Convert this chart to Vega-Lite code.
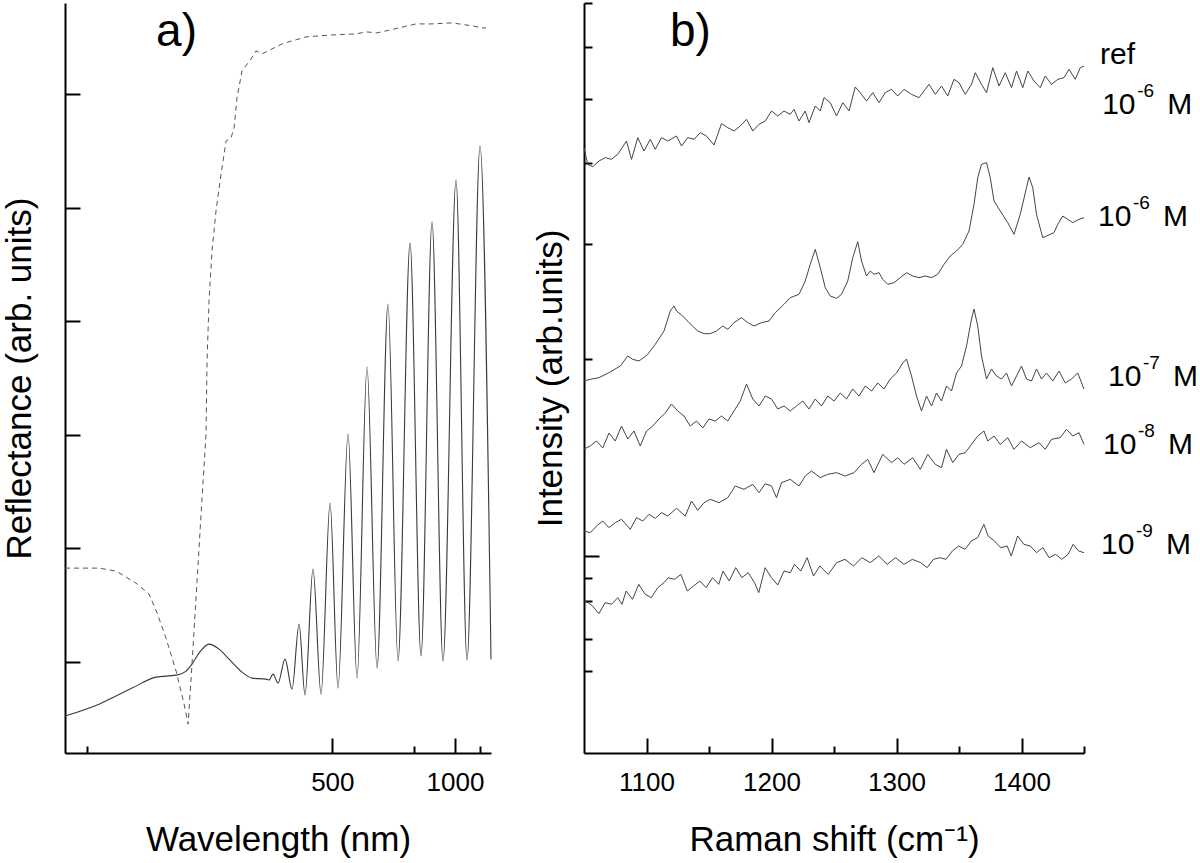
{
  "$schema": "https://vega.github.io/schema/vega-lite/v6.json",
  "background": "white",
  "padding": {"left": 2, "top": 2, "right": 0, "bottom": 0},
  "spacing": 39,
  "config": {
    "view": {"stroke": null},
    "font": "Liberation Sans",
    "axis": {
      "grid": false,
      "domainColor": "black",
      "domainWidth": 2,
      "tickColor": "black",
      "tickWidth": 2,
      "labelFont": "Liberation Sans",
      "labelFontSize": 26,
      "labelColor": "black",
      "labelFlush": false,
      "labelOverlap": false,
      "titleFont": "Liberation Sans",
      "titleFontSize": 35,
      "titleFontWeight": "normal",
      "titleColor": "black"
    }
  },
  "datasets": {
    "a_solid": [
      {"x":239.3,"y":0.525},{"x":256.3,"y":0.630},{"x":275.3,"y":0.771},{"x":291.0,"y":0.868},{"x":305.5,"y":0.885},{"x":313.3,"y":0.921},{"x":318.1,"y":0.982},{"x":324.0,"y":1.079},{"x":332.8,"y":1.158},{"x":342.1,"y":1.114},{"x":351.9,"y":1.026},{"x":365.5,"y":0.912},{"x":376.7,"y":0.859},{"x":393.7,"y":0.850},{"x":397.5,"y":0.842},{"x":402.7,"y":0.894},{"x":409.4,"y":0.815},{"x":419.2,"y":1.026},{"x":429.5,"y":0.762},{"x":440.3,"y":1.335},{"x":449.9,"y":0.710},{"x":463.5,"y":1.819},{"x":478.0,"y":0.718},{"x":495.4,"y":2.400},{"x":511.9,"y":0.771},{"x":534.2,"y":3.007},{"x":556.0,"y":0.859},{"x":582.3,"y":3.597},{"x":611.4,"y":0.947},{"x":646.8,"y":4.151},{"x":682.8,"y":1.009},{"x":731.7,"y":4.687},{"x":783.0,"y":1.053},{"x":842.2,"y":4.873},{"x":910.9,"y":1.009},{"x":1008.3,"y":5.243},{"x":1108.4,"y":1.018},{"x":1256.0,"y":5.542},{"x":1415.0,"y":1.026}
    ],
    "a_dash": [
      {"x":239.3,"y":1.827},{"x":256.3,"y":1.827},{"x":265.8,"y":1.801},{"x":277.8,"y":1.695},{"x":286.2,"y":1.599},{"x":291.7,"y":1.431},{"x":298.0,"y":1.211},{"x":305.5,"y":0.921},{"x":311.7,"y":0.630},{"x":314.9,"y":0.454},{"x":318.1,"y":0.982},{"x":322.3,"y":1.713},{"x":326.6,"y":2.444},{"x":330.1,"y":3.007},{"x":331.0,"y":3.650},{"x":332.8,"y":4.178},{"x":335.5,"y":4.618},{"x":339.2,"y":4.970},{"x":344.0,"y":5.296},{"x":348.9,"y":5.586},{"x":353.9,"y":5.613},{"x":357.0,"y":5.701},{"x":360.1,"y":5.965},{"x":365.5,"y":6.203},{"x":375.6,"y":6.308},{"x":381.4,"y":6.379},{"x":388.7,"y":6.352},{"x":414.9,"y":6.440},{"x":451.6,"y":6.502},{"x":499.4,"y":6.519},{"x":553.5,"y":6.528},{"x":579.6,"y":6.546},{"x":611.4,"y":6.537},{"x":686.6,"y":6.581},{"x":758.8,"y":6.616},{"x":842.2,"y":6.616},{"x":976.2,"y":6.625},{"x":1033.7,"y":6.616},{"x":1160.9,"y":6.599},{"x":1282.1,"y":6.581},{"x":1338.2,"y":6.581}
    ],
    "a_label": [{"x":291.0,"y":6.42,"t":"a)"}],
    "b_label": [{"x":1118.8,"y":2121,"t":"b)"}],
    "b_names": [
      {"x":1462.8,"y":2067,"base":"ref","sup":"","unit":""},
      {"x":1464.5,"y":1917,"base":"10","sup":"-6","unit":"M"},
      {"x":1461.2,"y":1581,"base":"10","sup":"-6","unit":"M"},
      {"x":1469.2,"y":1101,"base":"10","sup":"-7","unit":"M"},
      {"x":1465.2,"y":897,"base":"10","sup":"-8","unit":"M"},
      {"x":1463.6,"y":597,"base":"10","sup":"-9","unit":"M"}
    ],
    "b1": [
      {"x":1050,"y":1816},{"x":1053,"y":1766},{"x":1057,"y":1759},{"x":1062,"y":1776},{"x":1067,"y":1786},{"x":1072,"y":1781},{"x":1077,"y":1796},{"x":1084,"y":1836},{"x":1088,"y":1781},{"x":1093,"y":1846},{"x":1098,"y":1806},{"x":1103,"y":1841},{"x":1107,"y":1811},{"x":1112,"y":1846},{"x":1117,"y":1836},{"x":1124,"y":1851},{"x":1128,"y":1821},{"x":1133,"y":1846},{"x":1138,"y":1841},{"x":1143,"y":1861},{"x":1148,"y":1851},{"x":1154,"y":1824},{"x":1160,"y":1888},{"x":1165,"y":1876},{"x":1170,"y":1866},{"x":1175,"y":1881},{"x":1180,"y":1901},{"x":1185,"y":1866},{"x":1190,"y":1886},{"x":1195,"y":1896},{"x":1200,"y":1926},{"x":1205,"y":1911},{"x":1210,"y":1926},{"x":1215,"y":1916},{"x":1218,"y":1931},{"x":1222,"y":1896},{"x":1227,"y":1926},{"x":1230,"y":1891},{"x":1235,"y":1941},{"x":1239,"y":1926},{"x":1242,"y":1966},{"x":1247,"y":1951},{"x":1252,"y":1911},{"x":1257,"y":1951},{"x":1262,"y":1926},{"x":1267,"y":1998},{"x":1271,"y":1981},{"x":1276,"y":1956},{"x":1281,"y":1981},{"x":1286,"y":1951},{"x":1291,"y":1981},{"x":1296,"y":1991},{"x":1301,"y":1971},{"x":1306,"y":1991},{"x":1312,"y":1976},{"x":1318,"y":1966},{"x":1323,"y":1991},{"x":1326,"y":2006},{"x":1331,"y":1976},{"x":1336,"y":2001},{"x":1341,"y":1971},{"x":1346,"y":2021},{"x":1350,"y":2011},{"x":1355,"y":1976},{"x":1360,"y":2006},{"x":1363,"y":2041},{"x":1368,"y":2006},{"x":1372,"y":1981},{"x":1377,"y":2056},{"x":1382,"y":2001},{"x":1387,"y":2041},{"x":1392,"y":1996},{"x":1396,"y":2046},{"x":1401,"y":1996},{"x":1405,"y":2046},{"x":1410,"y":2016},{"x":1415,"y":1996},{"x":1419,"y":2031},{"x":1424,"y":2006},{"x":1429,"y":2021},{"x":1434,"y":2026},{"x":1438,"y":2051},{"x":1443,"y":2021},{"x":1447,"y":2056},{"x":1450,"y":2061}
    ],
    "b2": [
      {"x":1050,"y":1116},{"x":1055,"y":1121},{"x":1062,"y":1126},{"x":1070,"y":1141},{"x":1079,"y":1161},{"x":1085,"y":1191},{"x":1089,"y":1181},{"x":1094,"y":1176},{"x":1101,"y":1196},{"x":1107,"y":1226},{"x":1114,"y":1266},{"x":1119,"y":1326},{"x":1122,"y":1341},{"x":1124,"y":1326},{"x":1129,"y":1311},{"x":1134,"y":1291},{"x":1141,"y":1266},{"x":1146,"y":1258},{"x":1151,"y":1258},{"x":1156,"y":1266},{"x":1161,"y":1281},{"x":1165,"y":1271},{"x":1170,"y":1291},{"x":1176,"y":1306},{"x":1181,"y":1291},{"x":1186,"y":1281},{"x":1192,"y":1291},{"x":1198,"y":1296},{"x":1203,"y":1321},{"x":1210,"y":1346},{"x":1215,"y":1366},{"x":1222,"y":1376},{"x":1227,"y":1416},{"x":1231,"y":1466},{"x":1235,"y":1511},{"x":1239,"y":1456},{"x":1243,"y":1396},{"x":1247,"y":1371},{"x":1252,"y":1364},{"x":1256,"y":1376},{"x":1261,"y":1416},{"x":1265,"y":1486},{"x":1269,"y":1534},{"x":1272,"y":1476},{"x":1276,"y":1431},{"x":1279,"y":1446},{"x":1282,"y":1436},{"x":1286,"y":1441},{"x":1289,"y":1421},{"x":1293,"y":1406},{"x":1298,"y":1411},{"x":1303,"y":1426},{"x":1308,"y":1441},{"x":1313,"y":1431},{"x":1318,"y":1426},{"x":1323,"y":1431},{"x":1328,"y":1426},{"x":1333,"y":1436},{"x":1338,"y":1466},{"x":1343,"y":1491},{"x":1348,"y":1506},{"x":1353,"y":1526},{"x":1358,"y":1566},{"x":1362,"y":1646},{"x":1365,"y":1726},{"x":1368,"y":1766},{"x":1372,"y":1771},{"x":1375,"y":1726},{"x":1378,"y":1656},{"x":1383,"y":1626},{"x":1389,"y":1591},{"x":1394,"y":1556},{"x":1399,"y":1616},{"x":1404,"y":1696},{"x":1406,"y":1728},{"x":1409,"y":1696},{"x":1412,"y":1616},{"x":1417,"y":1546},{"x":1420,"y":1551},{"x":1426,"y":1561},{"x":1429,"y":1586},{"x":1433,"y":1611},{"x":1437,"y":1601},{"x":1441,"y":1591},{"x":1446,"y":1601},{"x":1450,"y":1606}
    ],
    "b3": [
      {"x":1050,"y":912},{"x":1055,"y":921},{"x":1060,"y":936},{"x":1065,"y":915},{"x":1070,"y":960},{"x":1075,"y":936},{"x":1080,"y":981},{"x":1085,"y":942},{"x":1090,"y":966},{"x":1095,"y":921},{"x":1100,"y":966},{"x":1105,"y":981},{"x":1110,"y":1002},{"x":1115,"y":1020},{"x":1120,"y":1047},{"x":1125,"y":1026},{"x":1130,"y":1011},{"x":1135,"y":981},{"x":1140,"y":996},{"x":1145,"y":975},{"x":1150,"y":1002},{"x":1155,"y":996},{"x":1160,"y":1011},{"x":1165,"y":996},{"x":1170,"y":1026},{"x":1175,"y":1056},{"x":1180,"y":1107},{"x":1185,"y":1062},{"x":1190,"y":1041},{"x":1195,"y":1071},{"x":1200,"y":1062},{"x":1205,"y":1032},{"x":1210,"y":1041},{"x":1215,"y":1026},{"x":1220,"y":1041},{"x":1225,"y":1056},{"x":1230,"y":1032},{"x":1235,"y":1062},{"x":1240,"y":1041},{"x":1245,"y":1071},{"x":1250,"y":1056},{"x":1255,"y":1080},{"x":1260,"y":1062},{"x":1265,"y":1092},{"x":1270,"y":1071},{"x":1275,"y":1101},{"x":1280,"y":1086},{"x":1285,"y":1110},{"x":1290,"y":1092},{"x":1295,"y":1122},{"x":1300,"y":1140},{"x":1305,"y":1170},{"x":1308,"y":1182},{"x":1312,"y":1131},{"x":1316,"y":1071},{"x":1320,"y":1026},{"x":1324,"y":1071},{"x":1328,"y":1041},{"x":1332,"y":1080},{"x":1336,"y":1056},{"x":1340,"y":1101},{"x":1344,"y":1086},{"x":1348,"y":1140},{"x":1352,"y":1161},{"x":1356,"y":1221},{"x":1360,"y":1302},{"x":1362,"y":1332},{"x":1365,"y":1281},{"x":1368,"y":1191},{"x":1372,"y":1122},{"x":1376,"y":1152},{"x":1380,"y":1131},{"x":1384,"y":1122},{"x":1388,"y":1140},{"x":1392,"y":1101},{"x":1396,"y":1131},{"x":1400,"y":1161},{"x":1404,"y":1122},{"x":1408,"y":1116},{"x":1412,"y":1152},{"x":1416,"y":1122},{"x":1420,"y":1140},{"x":1425,"y":1116},{"x":1430,"y":1146},{"x":1435,"y":1110},{"x":1440,"y":1122},{"x":1445,"y":1140},{"x":1450,"y":1092}
    ],
    "b4": [
      {"x":1050,"y":666},{"x":1055,"y":661},{"x":1060,"y":681},{"x":1065,"y":696},{"x":1070,"y":676},{"x":1075,"y":691},{"x":1080,"y":701},{"x":1087,"y":671},{"x":1092,"y":706},{"x":1097,"y":696},{"x":1102,"y":716},{"x":1107,"y":704},{"x":1112,"y":721},{"x":1117,"y":711},{"x":1124,"y":734},{"x":1131,"y":711},{"x":1136,"y":756},{"x":1141,"y":728},{"x":1146,"y":751},{"x":1151,"y":761},{"x":1158,"y":751},{"x":1165,"y":766},{"x":1171,"y":801},{"x":1178,"y":791},{"x":1185,"y":806},{"x":1190,"y":781},{"x":1195,"y":808},{"x":1200,"y":801},{"x":1204,"y":766},{"x":1208,"y":811},{"x":1215,"y":821},{"x":1222,"y":801},{"x":1227,"y":831},{"x":1232,"y":846},{"x":1239,"y":826},{"x":1245,"y":836},{"x":1252,"y":841},{"x":1259,"y":831},{"x":1266,"y":841},{"x":1272,"y":866},{"x":1277,"y":881},{"x":1282,"y":841},{"x":1289,"y":896},{"x":1296,"y":871},{"x":1301,"y":886},{"x":1306,"y":866},{"x":1313,"y":886},{"x":1319,"y":851},{"x":1325,"y":896},{"x":1331,"y":866},{"x":1336,"y":856},{"x":1340,"y":911},{"x":1345,"y":871},{"x":1350,"y":896},{"x":1355,"y":901},{"x":1360,"y":926},{"x":1365,"y":951},{"x":1370,"y":966},{"x":1373,"y":936},{"x":1378,"y":951},{"x":1383,"y":926},{"x":1389,"y":946},{"x":1394,"y":911},{"x":1400,"y":936},{"x":1407,"y":916},{"x":1414,"y":931},{"x":1419,"y":911},{"x":1424,"y":941},{"x":1431,"y":946},{"x":1436,"y":971},{"x":1441,"y":951},{"x":1446,"y":961},{"x":1450,"y":926}
    ],
    "b5": [
      {"x":1050,"y":456},{"x":1053.4,"y":451},{"x":1056.8,"y":441},{"x":1061.9,"y":418},{"x":1066.9,"y":451},{"x":1072,"y":446},{"x":1077,"y":466},{"x":1080.4,"y":446},{"x":1083.7,"y":486},{"x":1088.8,"y":461},{"x":1093.8,"y":506},{"x":1098.9,"y":476},{"x":1103.9,"y":466},{"x":1109,"y":496},{"x":1114,"y":511},{"x":1117.4,"y":526},{"x":1122.5,"y":521},{"x":1127.5,"y":536},{"x":1132.6,"y":486},{"x":1137.6,"y":501},{"x":1142.7,"y":516},{"x":1147.7,"y":496},{"x":1152.8,"y":526},{"x":1157.8,"y":506},{"x":1161.2,"y":546},{"x":1166.2,"y":516},{"x":1171.3,"y":556},{"x":1176.3,"y":526},{"x":1181.4,"y":541},{"x":1186.4,"y":511},{"x":1189.8,"y":481},{"x":1194.9,"y":556},{"x":1199.9,"y":526},{"x":1205,"y":504},{"x":1210,"y":546},{"x":1215.1,"y":541},{"x":1218.4,"y":566},{"x":1223.5,"y":546},{"x":1228.5,"y":586},{"x":1233.6,"y":531},{"x":1238.6,"y":561},{"x":1245.4,"y":536},{"x":1252.1,"y":571},{"x":1258.8,"y":581},{"x":1265.6,"y":561},{"x":1272.3,"y":586},{"x":1279,"y":571},{"x":1285.8,"y":591},{"x":1292.5,"y":566},{"x":1299.2,"y":586},{"x":1306,"y":566},{"x":1312.7,"y":581},{"x":1319.4,"y":571},{"x":1324.5,"y":556},{"x":1329.5,"y":581},{"x":1334.6,"y":586},{"x":1339.6,"y":581},{"x":1344.7,"y":606},{"x":1349.7,"y":621},{"x":1354.8,"y":611},{"x":1359.8,"y":636},{"x":1364.9,"y":646},{"x":1369.9,"y":686},{"x":1373.3,"y":651},{"x":1378.4,"y":636},{"x":1383.4,"y":616},{"x":1388.5,"y":621},{"x":1391.8,"y":591},{"x":1396.9,"y":651},{"x":1401.9,"y":626},{"x":1407,"y":621},{"x":1412,"y":601},{"x":1417.1,"y":616},{"x":1422.1,"y":586},{"x":1427.2,"y":596},{"x":1432.2,"y":581},{"x":1437.3,"y":596},{"x":1441.3,"y":626},{"x":1445.7,"y":606},{"x":1450,"y":601}
    ]
  },
  "hconcat": [
    {
      "width": 426,
      "height": 750,
      "encoding": {
        "x": {
          "field": "x", "type": "quantitative",
          "scale": {"type": "pow", "exponent": -1, "domain": [239.3, 1415], "nice": false, "zero": false},
          "axis": {
            "title": "Wavelength (nm)",
            "values": [250, 500, 750, 1000, 1250],
            "labelExpr": "datum.value == 500 || datum.value == 1000 ? datum.label : ''",
            "format": "d",
            "tickSize": {"condition": {"test": "datum.value == 500 || datum.value == 1000", "value": -15}, "value": -7},
            "labelPadding": 31.5,
            "titlePadding": 19
          }
        },
        "y": {
          "field": "y", "type": "quantitative",
          "scale": {"domain": [0.2, 6.8], "nice": false, "zero": false},
          "axis": {
            "title": "Reflectance (arb. units)",
            "values": [1, 2, 3, 4, 5, 6],
            "labels": false,
            "tickSize": -15,
            "titlePadding": 27
          }
        }
      },
      "layer": [
        {"data": {"name": "a_solid"}, "mark": {"type": "line", "interpolate": "monotone", "stroke": "#3a3a3a", "strokeWidth": 1.1}},
        {"data": {"name": "a_dash"}, "mark": {"type": "line", "stroke": "#555555", "strokeWidth": 1, "strokeDash": [5, 4]}},
        {"data": {"name": "a_label"}, "mark": {"type": "text", "align": "left", "baseline": "alphabetic", "fontSize": 46, "font": "Liberation Sans", "color": "black"}, "encoding": {"text": {"field": "t"}}}
      ]
    },
    {
      "width": 500,
      "height": 750,
      "encoding": {
        "x": {
          "field": "x", "type": "quantitative",
          "scale": {"domain": [1050, 1450], "nice": false, "zero": false},
          "axis": {
            "title": "Raman shift (cm⁻¹)",
            "values": [1100, 1150, 1200, 1250, 1300, 1350, 1400, 1450],
            "labelExpr": "datum.value % 100 == 0 ? datum.label : ''",
            "format": "d",
            "tickSize": {"condition": {"test": "datum.value % 100 == 0", "value": -15}, "value": -7},
            "labelPadding": 31.5,
            "titlePadding": 19
          }
        },
        "y": {
          "field": "y", "type": "quantitative",
          "scale": {"domain": [0, 2250], "nice": false, "zero": false},
          "axis": {
            "title": "Intensity (arb.units)",
            "values": [2250, 2118, 1962, 1770, 1527, 1182, 591, 525, 456, 342, 246],
            "labels": false,
            "tickSize": {"condition": {"test": "datum.value == 591", "value": -15}, "value": -8},
            "titlePadding": 14.6
          }
        }
      },
      "layer": [
        {"data": {"name": "b1"}, "mark": {"type": "line", "stroke": "#444444", "strokeWidth": 1}},
        {"data": {"name": "b2"}, "mark": {"type": "line", "stroke": "#444444", "strokeWidth": 1}},
        {"data": {"name": "b3"}, "mark": {"type": "line", "stroke": "#444444", "strokeWidth": 1}},
        {"data": {"name": "b4"}, "mark": {"type": "line", "stroke": "#444444", "strokeWidth": 1}},
        {"data": {"name": "b5"}, "mark": {"type": "line", "stroke": "#444444", "strokeWidth": 1}},
        {"data": {"name": "b_label"}, "mark": {"type": "text", "align": "left", "baseline": "alphabetic", "fontSize": 46, "font": "Liberation Sans", "color": "black"}, "encoding": {"text": {"field": "t"}}},
        {"data": {"name": "b_names"}, "mark": {"type": "text", "align": "left", "baseline": "alphabetic", "fontSize": 30, "font": "Liberation Sans", "color": "black"}, "encoding": {"text": {"field": "base"}}},
        {"data": {"name": "b_names"}, "mark": {"type": "text", "align": "left", "baseline": "alphabetic", "fontSize": 19, "font": "Liberation Sans", "color": "black", "dx": 35, "dy": -17}, "encoding": {"text": {"field": "sup"}}},
        {"data": {"name": "b_names"}, "mark": {"type": "text", "align": "left", "baseline": "alphabetic", "fontSize": 30, "font": "Liberation Sans", "color": "black", "dx": 65}, "encoding": {"text": {"field": "unit"}}}
      ]
    }
  ]
}
